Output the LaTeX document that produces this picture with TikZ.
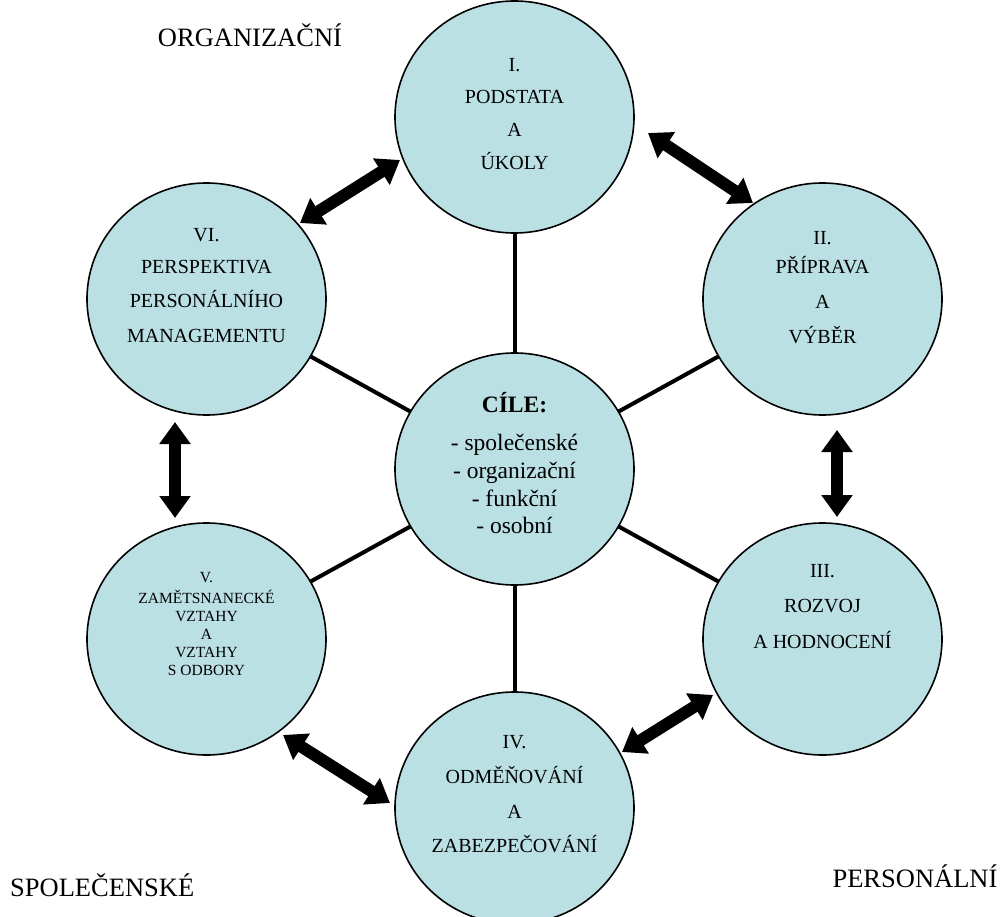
\documentclass[tikz,border=0pt]{standalone}
\usepackage{fontspec}
\setmainfont{Liberation Serif}
\usetikzlibrary{arrows.meta,shapes.geometric}
\definecolor{cfill}{RGB}{187,224,228}
\tikzset{
 bub/.style={ellipse, draw=black, line width=1.6pt, fill=cfill, minimum width=239pt, minimum height=232pt, inner sep=0pt},
 spoke/.style={line width=4pt},
 dbl/.style={line width=12pt, {Triangle[length=22pt,width=30pt]}-{Triangle[length=22pt,width=30pt]}},
 tx/.style={anchor=base, inner sep=0pt, font=\fontsize{20}{23}\selectfont},
 txs/.style={anchor=base, inner sep=0pt, font=\fontsize{15.5}{18}\selectfont},
 txc/.style={anchor=base, inner sep=0pt, font=\fontsize{23.5}{28}\selectfont},
 corner/.style={anchor=base, inner sep=0pt, font=\fontsize{26.5}{30}\selectfont},
}
\begin{document}
\begin{tikzpicture}[x=1pt,y=-1pt]
\useasboundingbox[fill=white] (0,0) rectangle (1002,917);
% centres
\coordinate (pC) at (514.5,469);
\coordinate (pI) at (514.5,117);
\coordinate (pII) at (822.5,299);
\coordinate (pIII) at (822.5,639);
\coordinate (pIV) at (514.5,808);
\coordinate (pV) at (206.5,639);
\coordinate (pVI) at (206.5,299);
% spokes
\foreach \p in {pI,pII,pIII,pIV,pV,pVI} \draw[spoke] (pC) -- (\p);
% circles
\node[bub] (C) at (pC) {};
\node[bub] (I) at (pI) {};
\node[bub] (II) at (pII) {};
\node[bub] (III) at (pIII) {};
\node[bub] (IV) at (pIV) {};
\node[bub] (V) at (pV) {};
\node[bub] (VI) at (pVI) {};
% texts I
\node[tx] (tI1) at (514.5,71.5) {I.};
\node[tx] (tI2) at (514.5,103.5) {PODSTATA};
\node[tx] (tI3) at (514.5,136.5) {A};
\node[tx] (tI4) at (514.5,170) {ÚKOLY};
% texts II
\node[tx] (tII1) at (822.5,244.5) {II.};
\node[tx] (tII2) at (822.5,274) {PŘÍPRAVA};
\node[tx] (tII3) at (822.5,308.5) {A};
\node[tx] (tII4) at (822.5,343.5) {VÝBĚR};
% texts III
\node[tx] (tIII1) at (822.5,577.5) {III.};
\node[tx] (tIII2) at (822.5,612.5) {ROZVOJ};
\node[tx] (tIII3) at (822.5,648.5) {A HODNOCENÍ};
% texts IV
\node[tx] (tIV1) at (514.5,748.5) {IV.};
\node[tx] (tIV2) at (514.5,783.5) {ODMĚŇOVÁNÍ};
\node[tx] (tIV3) at (514.5,818.5) {A};
\node[tx] (tIV4) at (514.5,852.5) {ZABEZPEČOVÁNÍ};
% texts V
\node[txs] (tV1) at (206.5,582) {V.};
\node[txs] (tV2) at (206.5,603) {ZAMĚTSNANECKÉ};
\node[txs] (tV3) at (206.5,621) {VZTAHY};
\node[txs] (tV4) at (206.5,639) {A};
\node[txs] (tV5) at (206.5,657) {VZTAHY};
\node[txs] (tV6) at (206.5,675) {S ODBORY};
% texts VI
\node[tx] (tVI1) at (206.5,242) {VI.};
\node[tx] (tVI2) at (206.5,273.5) {PERSPEKTIVA};
\node[tx] (tVI3) at (206.5,307.5) {PERSONÁLNÍHO};
\node[tx] (tVI4) at (206.5,342.5) {MANAGEMENTU};
% centre texts
\node[txc] (tC1) at (514.5,413) {\textbf{CÍLE:}};
\node[txc] (tC2) at (514.5,450) {- společenské};
\node[txc] (tC3) at (514.5,478.5) {- organizační};
\node[txc] (tC4) at (514.5,506.5) {- funkční};
\node[txc] (tC5) at (514.5,533.5) {- osobní};
% corner labels
\node[corner] (lORG) at (250,47) {ORGANIZAČNÍ};
\node[corner, anchor=base west] (lSPO) at (10,896) {SPOLEČENSKÉ};
\node[corner] (lPER) at (915,887) {PERSONÁLNÍ};
% arrow end points
\coordinate (aVIa) at (300,223);
\coordinate (aIa) at (400,160);
\coordinate (aIb) at (648,133);
\coordinate (aIIa) at (753,203);
\coordinate (aIIb) at (837,430);
\coordinate (aIIIa) at (837,517);
\coordinate (aIIIb) at (713,695);
\coordinate (aIVa) at (622,752);
\coordinate (aIVb) at (390,803);
\coordinate (aVa) at (283,735);
\coordinate (aVb) at (175,518);
\coordinate (aVIb) at (175,422);
\draw[dbl] (aVIa) -- (aIa);
\draw[dbl] (aIb) -- (aIIa);
\draw[dbl] (aIIb) -- (aIIIa);
\draw[dbl] (aIIIb) -- (aIVa);
\draw[dbl] (aIVb) -- (aVa);
\draw[dbl] (aVb) -- (aVIb);
\end{tikzpicture}
\end{document}
